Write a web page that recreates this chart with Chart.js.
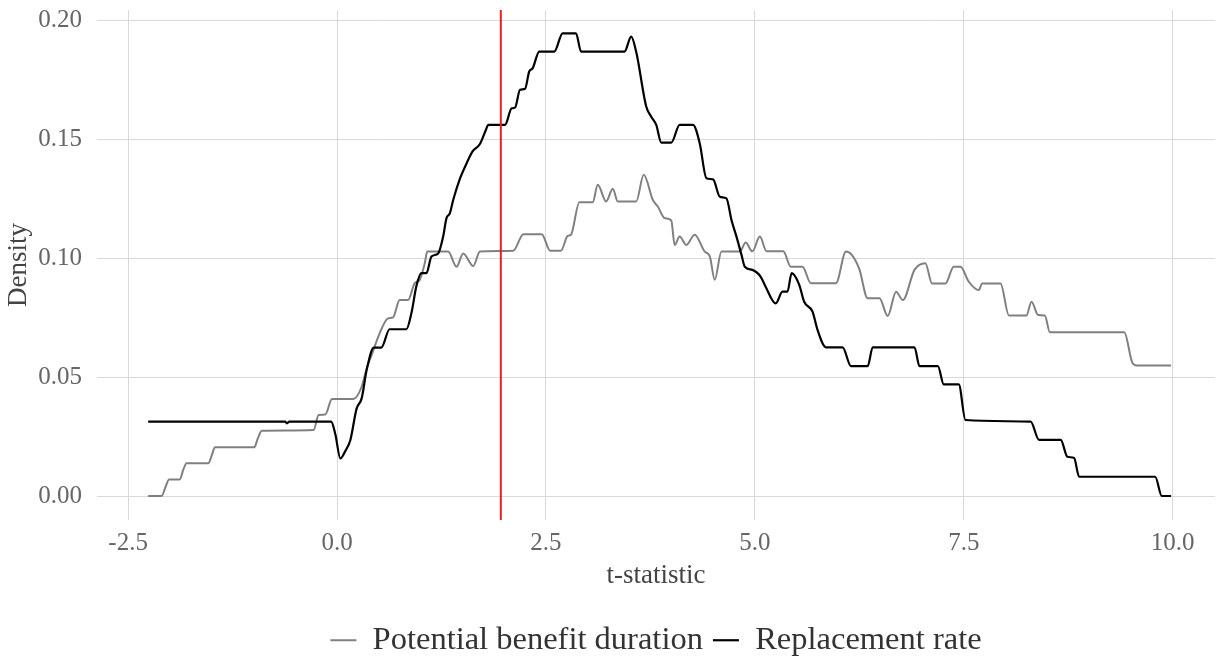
<!DOCTYPE html>
<html>
<head>
<meta charset="utf-8">
<script src="https://cdn.jsdelivr.net/npm/chart.js@4/dist/chart.umd.min.js"></script>
<style>
  html, body { margin: 0; padding: 0; background: #ffffff; }
  #wrap { width: 1225px; height: 661px; }
</style>
</head>
<body>
<div id="wrap"><canvas id="c" width="1225" height="661"></canvas></div>
<script>
// ---- data ----
const seriesNames = ['Potential benefit duration', 'Replacement rate'];

const pbdX = [-2.26,-2.10,-2.05,-2.01,-1.88,-1.84,-1.80,-1.54,-1.50,-1.46,-0.99,-0.95,-0.90,-0.28,-0.22,-0.14,-0.06,0.195,0.295,0.355,0.415,0.51,0.61,0.67,0.75,0.85,0.93,0.99,1.05,1.08,1.33,1.43,1.51,1.63,1.71,2.11,2.23,2.45,2.55,2.68,2.76,2.80,2.90,3.06,3.12,3.22,3.30,3.36,3.58,3.67,3.78,3.84,3.92,4.00,4.04,4.10,4.18,4.28,4.40,4.46,4.52,4.60,4.82,4.89,4.97,5.06,5.14,5.34,5.43,5.57,5.67,5.97,6.09,6.16,6.25,6.35,6.49,6.59,6.69,6.77,6.91,7.04,7.12,7.28,7.38,7.46,7.56,7.68,7.72,7.94,8.04,8.25,8.31,8.39,8.47,8.53,9.42,9.52,9.58,9.98];
const pbdY = [0.0000,0.0000,0.0040,0.0070,0.0070,0.0110,0.0138,0.0138,0.0170,0.0205,0.0205,0.0240,0.0275,0.0278,0.0341,0.0343,0.0408,0.0408,0.0460,0.0538,0.0594,0.0685,0.0748,0.0752,0.0825,0.0825,0.0896,0.0910,0.0980,0.1029,0.1029,0.0965,0.1021,0.0968,0.1029,0.1033,0.1102,0.1102,0.1033,0.1033,0.1095,0.1100,0.1237,0.1237,0.1310,0.1240,0.1293,0.1240,0.1240,0.1352,0.1246,0.1218,0.1170,0.1160,0.1057,0.1092,0.1057,0.1100,0.1029,0.1010,0.0910,0.1029,0.1029,0.1067,0.1030,0.1092,0.1030,0.1030,0.0965,0.0965,0.0896,0.0896,0.1029,0.1015,0.0955,0.0832,0.0832,0.0758,0.0860,0.0825,0.0952,0.0980,0.0895,0.0895,0.0965,0.0965,0.0902,0.0867,0.0895,0.0895,0.0760,0.0760,0.0818,0.0762,0.0760,0.0689,0.0689,0.0559,0.0549,0.0549];

const rrX = [-2.26,-0.62,-0.60,-0.57,-0.07,-0.02,0.04,0.10,0.16,0.235,0.295,0.355,0.44,0.53,0.63,0.83,0.89,0.95,1.01,1.07,1.13,1.21,1.27,1.31,1.35,1.39,1.47,1.55,1.62,1.71,1.78,1.81,2.01,2.09,2.13,2.19,2.25,2.30,2.34,2.42,2.60,2.70,2.86,2.92,3.44,3.52,3.58,3.70,3.76,3.82,3.88,4.00,4.10,4.26,4.34,4.42,4.50,4.58,4.66,4.72,4.78,4.84,4.88,4.97,5.07,5.13,5.25,5.33,5.39,5.44,5.53,5.59,5.69,5.75,5.85,6.05,6.15,6.35,6.41,6.91,6.97,7.19,7.26,7.44,7.52,8.30,8.40,8.66,8.74,8.82,8.88,9.79,9.87,9.98];
const rrY = [0.0313,0.0313,0.0306,0.0313,0.0313,0.0260,0.0158,0.0190,0.0236,0.0369,0.0411,0.0531,0.0625,0.0625,0.0702,0.0702,0.0769,0.0884,0.0938,0.0938,0.1008,0.1021,0.1092,0.1170,0.1190,0.1246,0.1335,0.1400,0.1450,0.1482,0.1540,0.1562,0.1562,0.1632,0.1635,0.1710,0.1714,0.1787,0.1800,0.1871,0.1871,0.1948,0.1948,0.1871,0.1871,0.1934,0.1870,0.1640,0.1597,0.1562,0.1488,0.1488,0.1562,0.1562,0.1485,0.1338,0.1333,0.1260,0.1253,0.1162,0.1092,0.1015,0.0965,0.0952,0.0923,0.0880,0.0811,0.0860,0.0860,0.0938,0.0890,0.0818,0.0776,0.0699,0.0626,0.0626,0.0547,0.0547,0.0626,0.0626,0.0547,0.0547,0.0470,0.0470,0.0320,0.0313,0.0236,0.0236,0.0165,0.0160,0.0081,0.0081,0.0000,0.0000];

const criticalT = 1.96;
const xTicks = [-2.5, 0, 2.5, 5, 7.5, 10];
const xTickLabels = ['-2.5', '0.0', '2.5', '5.0', '7.5', '10.0'];
const yTicks = [0, 0.05, 0.10, 0.15, 0.20];
const yTickLabels = ['0.00', '0.05', '0.10', '0.15', '0.20'];
const xTitle = 't-statistic';
const yTitle = 'Density';

// ---- chart ----
const xMin = -2.872, xMax = 10.506;
const yMin = -0.0101, yMax = 0.2046;

const toPts = (xs, ys) => xs.map((x, i) => ({x: x, y: ys[i]}));
const serif = '"Liberation Serif", "Times New Roman", Times, serif';

new Chart(document.getElementById('c'), {
  type: 'line',
  data: {
    datasets: [
      {
        label: seriesNames[0],
        data: toPts(pbdX, pbdY),
        borderColor: '#808080',
        backgroundColor: '#808080',
        borderWidth: 2,
        pointRadius: 0,
        cubicInterpolationMode: 'monotone',
        order: 2
      },
      {
        label: seriesNames[1],
        data: toPts(rrX, rrY),
        borderColor: '#000000',
        backgroundColor: '#000000',
        borderWidth: 2.2,
        pointRadius: 0,
        cubicInterpolationMode: 'monotone',
        order: 1
      },
      {
        label: 'critical',
        data: [{x: criticalT, y: yMin}, {x: criticalT, y: yMax}],
        borderColor: '#e8201c',
        backgroundColor: '#e8201c',
        borderWidth: 2,
        pointRadius: 0,
        order: 0
      }
    ]
  },
  options: {
    responsive: false,
    devicePixelRatio: 1,
    animation: false,
    parsing: false,
    layout: { padding: { left: 0, right: 10, top: 10, bottom: 0 } },
    plugins: {
      tooltip: { enabled: false },
      legend: {
        position: 'bottom',
        fullSize: false,
        maxHeight: 47,
        labels: {
          usePointStyle: true,
          pointStyle: 'line',
          pointStyleWidth: 26,
          padding: 10,
          color: '#333333',
          font: { family: serif, size: 32.5 },
          filter: (item) => item.datasetIndex !== 2,
          sort: (a, b) => a.datasetIndex - b.datasetIndex
        }
      }
    },
    scales: {
      x: {
        type: 'linear',
        min: xMin,
        max: xMax,
        border: { display: false },
        grid: { color: '#d9d9d9', lineWidth: 1, drawTicks: false },
        afterBuildTicks: (s) => { s.ticks = xTicks.map(v => ({value: v})); },
        afterFit: (s) => { s.height = 94; s.paddingLeft = 0; s.paddingRight = 0; },
        ticks: {
          padding: 8,
          color: '#666666',
          font: { family: serif, size: 25 },
          maxRotation: 0,
          callback: (v) => { const i = xTicks.indexOf(v); return i >= 0 ? xTickLabels[i] : ''; }
        },
        title: {
          display: true,
          text: xTitle,
          color: '#444444',
          font: { family: serif, size: 27 },
          padding: { top: 0, bottom: 22 }
        }
      },
      y: {
        type: 'linear',
        min: yMin,
        max: yMax,
        border: { display: false },
        grid: { color: '#d9d9d9', lineWidth: 1, drawTicks: false },
        afterBuildTicks: (s) => { s.ticks = yTicks.map(v => ({value: v})); },
        afterFit: (s) => { s.width = 97; s.paddingTop = 0; s.paddingBottom = 0; },
        ticks: {
          padding: 15,
          color: '#666666',
          font: { family: serif, size: 25 },
          callback: (v) => { const i = yTicks.findIndex(t => Math.abs(t - v) < 1e-9); return i >= 0 ? yTickLabels[i] : ''; }
        },
        title: {
          display: true,
          text: yTitle,
          color: '#444444',
          font: { family: serif, size: 27 },
          padding: { top: 3, bottom: 0 }
        }
      }
    }
  }
});
</script>
</body>
</html>
